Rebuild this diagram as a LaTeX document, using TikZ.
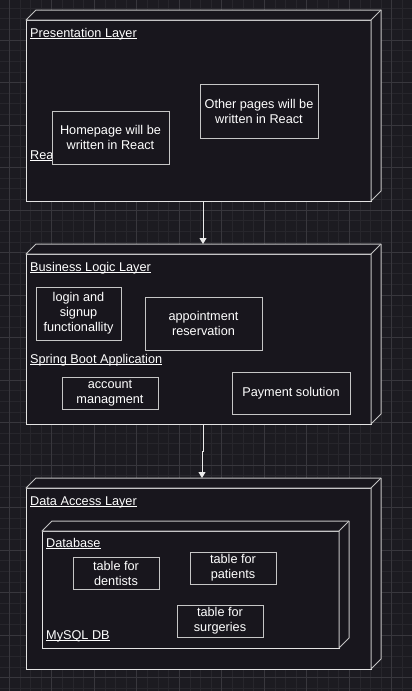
\documentclass[tikz,border=0pt]{standalone}
\usepackage{fontspec}
\setmainfont{Liberation Sans}
\usepackage{tikz}
\usetikzlibrary{positioning, arrows.meta}

\definecolor{canvas}{HTML}{1C1B21}
\definecolor{gridminor}{HTML}{27262C}
\definecolor{gridmajor}{HTML}{38373D}
\definecolor{boxfill}{HTML}{18161D}
\definecolor{edge}{HTML}{E4E4E4}
\definecolor{compedge}{HTML}{C6C6C6}

% underlined label, draw.io style (line crosses the descenders)
\newcommand{\uline}[1]{\setbox0\hbox{#1}\rlap{\rule[-1.8pt]{\wd0}{0.9pt}}\box0}

% back faces of a 3D node box
\newcommand{\boxdepth}[1]{%
  \filldraw[side] (#1.north west) -- ++(\dz,-\dz) -- ([shift={(\dz,-\dz)}]#1.north east)
    -- ([shift={(\dz,-\dz)}]#1.south east) -- (#1.south east) -- (#1.north east) -- cycle;
  \draw[side] (#1.north east) -- ++(\dz,-\dz);}

\begin{document}
\begin{tikzpicture}[x=1pt, y=-1pt,
    layer/.style={draw=edge, fill=boxfill, line width=1pt, inner sep=0pt, outer sep=0pt},
    side/.style={draw=edge!85!black, fill=boxfill, line width=1pt, line join=round},
    comp/.style={draw=compedge, fill=boxfill, line width=1pt, inner sep=0pt, outer sep=0pt,
      text=white, align=center, font=\fontsize{12.7}{15}\selectfont},
    title/.style={anchor=base west, inner sep=0pt, text=white, font=\fontsize{12.7}{14}\selectfont},
    conn/.style={draw=white!92!black, line width=1pt, -{Triangle[length=6pt,width=7pt]}}
  ]
  \def\dz{10}  % depth of the node boxes

  % -- 1. CANVAS AND GRID --
  \useasboundingbox (0,0) rectangle (412,691);
  \fill[canvas] (0,0) rectangle (412,691);
  \foreach \i in {0,...,39}
    \draw[gridminor, line width=0.7pt] ({-1.3+\i*10.625},0) -- ++(0,691);
  \foreach \j in {0,...,65}
    \draw[gridminor, line width=0.7pt] (0,{-2.5+\j*10.625}) -- ++(412,0);
  \foreach \i in {0,...,9}
    \draw[gridmajor, line width=0.8pt] ({9.3+\i*42.5},0) -- ++(0,691);
  \foreach \j in {0,...,15}
    \draw[gridmajor, line width=0.8pt] (0,{40+\j*42.5}) -- ++(412,0);

  % -- 2. PRESENTATION LAYER --
  \node[layer, minimum width=345, minimum height=181] (pres) at (198.5,110.5) {};
  \boxdepth{pres}
  \node[title] (pres title) at (30,37.5) {\uline{Presentation Layer}};
  \node[title] (react title) at (30,159.3) {\uline{React}};
  \node[comp, minimum width=117, minimum height=53] (home) at (110.5,137.5)
    {Homepage will be\\written in React};
  \node[comp, minimum width=118, minimum height=54] (other) at (259,111)
    {Other pages will be\\written in React};

  % -- 3. BUSINESS LOGIC LAYER --
  \node[layer, minimum width=345, minimum height=170] (busi) at (198.5,339) {};
  \boxdepth{busi}
  \node[title] (busi title) at (30,271.5) {\uline{Business Logic Layer}};
  \node[title] (spring title) at (30,363) {\uline{Spring Boot Application}};
  \node[comp, minimum width=85, minimum height=53] (login) at (78.5,313.5)
    {login and\\signup\\functionallity};
  \node[comp, minimum width=117, minimum height=53] (appoint) at (203.5,323.5)
    {appointment\\reservation};
  \node[comp, minimum width=96, minimum height=32] (account) at (110,393)
    {account\\managment};
  \node[comp, minimum width=118, minimum height=42] (payment) at (291,393)
    {Payment solution};

  % -- 4. DATA ACCESS LAYER --
  \node[layer, minimum width=345, minimum height=181] (data) at (198.5,578.5) {};
  \boxdepth{data}
  \node[title] (data title) at (30,505) {\uline{Data Access Layer}};
  \node[layer, minimum width=297, minimum height=117] (db) at (190.5,589.5) {};
  \boxdepth{db}
  \node[title] (db title) at (46,547.5) {\uline{Database}};
  \node[title] (mysql title) at (46,639) {\uline{MySQL DB}};
  \node[comp, minimum width=86, minimum height=32] (dentists) at (116,573)
    {table for\\dentists};
  \node[comp, minimum width=86, minimum height=32] (patients) at (233,568)
    {table for\\patients};
  \node[comp, minimum width=86, minimum height=32] (surgeries) at (220,621)
    {table for\\surgeries};

  % -- 5. CONNECTORS --
  \coordinate (busi in) at (203,244);
  \coordinate (data in) at (202,478);
  \draw[conn] (busi in |- pres.south) -- (busi in);
  \draw[conn] (busi in |- busi.south) -- ++(0,27) -| (data in);
\end{tikzpicture}
\end{document}
